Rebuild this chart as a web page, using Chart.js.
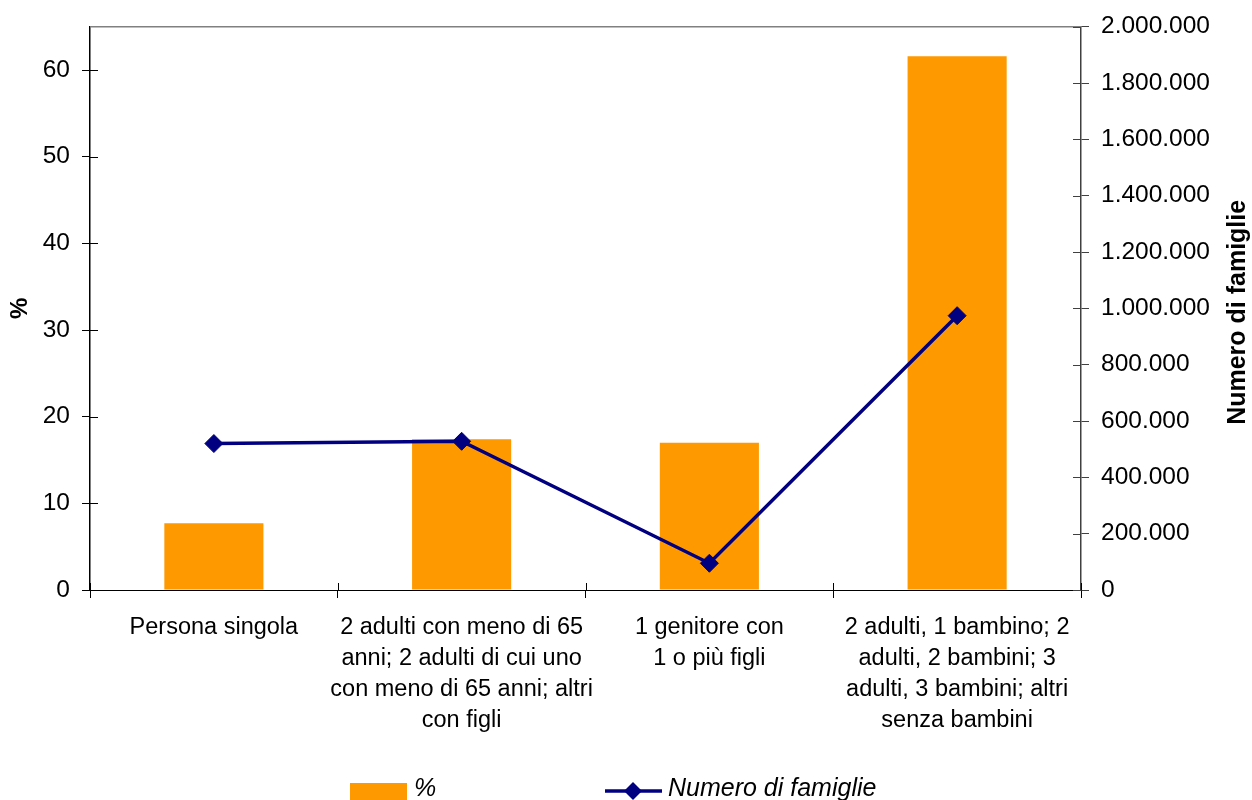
<!DOCTYPE html>
<html>
<head>
<meta charset="utf-8">
<script src="https://cdn.jsdelivr.net/npm/chart.js@4/dist/chart.umd.min.js"></script>
<style>
  html, body { margin: 0; padding: 0; background: #fff; }
  #wrap { width: 1252px; height: 800px; }
</style>
</head>
<body>
<div id="wrap"><canvas id="chart" width="1252" height="800"></canvas></div>
<script>
const categories = [
  ['Persona singola'],
  ['2 adulti con meno di 65', 'anni; 2 adulti di cui uno', 'con meno di 65 anni; altri', 'con figli'],
  ['1 genitore con', '1 o più figli'],
  ['2 adulti, 1 bambino; 2', 'adulti, 2 bambini; 3', 'adulti, 3 bambini; altri', 'senza bambini']
];
const percentValues = [7.7, 17.4, 17.0, 61.6];
const familyCounts = [520000, 528000, 95000, 974000];
const percentTicks = [0, 10, 20, 30, 40, 50, 60];
const familyTicks = [0, 200000, 400000, 600000, 800000, 1000000, 1200000, 1400000, 1600000, 1800000, 2000000];
const percentLabel = '%';
const familyLabel = 'Numero di famiglie';

const barColor = '#FF9900';
const lineColor = '#000080';
const fontFamily = '"Liberation Sans", Arial, sans-serif';

function formatThousands(v) {
  return String(v).replace(/\B(?=(\d{3})+(?!\d))/g, '.');
}

// short tick marks crossing into the plot, top border, right title, legend
const extras = {
  id: 'extras',
  afterDraw(chart) {
    const ctx = chart.ctx;
    const area = chart.chartArea;
    const x = chart.scales.x;
    const y = chart.scales.y;
    const y1 = chart.scales.y1;
    ctx.save();

    ctx.strokeStyle = '#808080';
    ctx.lineWidth = 1.5;
    ctx.beginPath();
    ctx.moveTo(area.left, area.top);
    ctx.lineTo(area.right, area.top);
    ctx.stroke();

    ctx.lineWidth = 1;
    ctx.strokeStyle = '#000';
    ctx.beginPath();
    y.ticks.forEach(t => {
      const py = Math.round(y.getPixelForValue(t.value)) + 0.5;
      ctx.moveTo(area.left, py);
      ctx.lineTo(area.left + 8, py);
    });
    const n = categories.length;
    for (let i = 0; i <= n; i++) {
      const px = Math.round(x.left + i * (x.width / n)) + 0.5;
      ctx.moveTo(px, area.bottom - 7);
      ctx.lineTo(px, area.bottom);
    }
    ctx.stroke();

    ctx.strokeStyle = '#404040';
    ctx.beginPath();
    y1.ticks.forEach(t => {
      const py = Math.round(y1.getPixelForValue(t.value)) + 0.5;
      ctx.moveTo(area.right - 8, py);
      ctx.lineTo(area.right, py);
    });
    ctx.stroke();

    // right axis title, reading upwards
    ctx.fillStyle = '#000';
    ctx.font = 'bold 25px ' + fontFamily;
    ctx.textAlign = 'center';
    ctx.textBaseline = 'middle';
    ctx.translate(1238, (area.top + area.bottom) / 2 + 4);
    ctx.rotate(-Math.PI / 2);
    ctx.fillText(familyLabel, 0, 0);
    ctx.setTransform(1, 0, 0, 1, 0, 0);

    // legend
    ctx.fillStyle = barColor;
    ctx.fillRect(350, 783, 57, 17);
    ctx.fillStyle = '#000';
    ctx.font = 'italic 25px ' + fontFamily;
    ctx.textAlign = 'left';
    ctx.fillText(percentLabel, 414, 789);

    ctx.strokeStyle = lineColor;
    ctx.lineWidth = 3.5;
    ctx.beginPath();
    ctx.moveTo(605, 791);
    ctx.lineTo(662, 791);
    ctx.stroke();
    ctx.fillStyle = lineColor;
    ctx.beginPath();
    ctx.moveTo(633 - 9, 791);
    ctx.lineTo(633, 782);
    ctx.lineTo(633 + 9, 791);
    ctx.lineTo(633, 800);
    ctx.closePath();
    ctx.fill();
    ctx.fillStyle = '#000';
    ctx.fillText(familyLabel, 668, 789);

    ctx.restore();
  }
};

new Chart(document.getElementById('chart'), {
  type: 'bar',
  data: {
    labels: categories,
    datasets: [
      {
        type: 'line',
        label: familyLabel,
        data: familyCounts,
        yAxisID: 'y1',
        order: 0,
        borderColor: lineColor,
        borderWidth: 3.5,
        backgroundColor: lineColor,
        pointStyle: 'rectRot',
        pointRadius: 9,
        pointBackgroundColor: lineColor,
        pointBorderColor: lineColor,
        pointBorderWidth: 1,
        tension: 0,
        fill: false
      },
      {
        label: percentLabel,
        data: percentValues,
        yAxisID: 'y',
        order: 1,
        backgroundColor: barColor,
        borderWidth: 0,
        categoryPercentage: 0.4,
        barPercentage: 1.0
      }
    ]
  },
  options: {
    responsive: false,
    animation: false,
    devicePixelRatio: 1,
    layout: { padding: { top: 26, right: 0, bottom: 0, left: 0 } },
    plugins: {
      legend: { display: false },
      tooltip: { enabled: false },
      title: { display: false }
    },
    scales: {
      x: {
        type: 'category',
        offset: true,
        grid: { display: true, drawOnChartArea: false, offset: true, tickLength: 8, color: '#000' },
        border: { display: true, color: '#000', width: 1 },
        ticks: {
          color: '#000',
          font: { family: fontFamily, size: 23.5, lineHeight: 1.32 },
          padding: 14,
          maxRotation: 0,
          autoSkip: false
        },
        afterFit: s => { s.height = 210; }
      },
      y: {
        type: 'linear',
        position: 'left',
        min: 0,
        max: 65,
        afterBuildTicks: s => { s.ticks = percentTicks.map(v => ({ value: v })); },
        grid: { display: true, drawOnChartArea: false, tickLength: 8, color: '#000' },
        border: { display: true, color: '#000', width: 1.5 },
        ticks: {
          color: '#000',
          font: { family: fontFamily, size: 24.5 },
          padding: 12
        },
        title: {
          display: true,
          text: percentLabel,
          color: '#000',
          font: { family: fontFamily, size: 24, weight: 'bold' },
          padding: { top: 6, bottom: 0 }
        },
        afterFit: s => { s.width = 90; }
      },
      y1: {
        type: 'linear',
        position: 'right',
        min: 0,
        max: 2000000,
        afterBuildTicks: s => { s.ticks = familyTicks.map(v => ({ value: v })); },
        grid: { display: true, drawOnChartArea: false, tickLength: 8, color: '#404040' },
        border: { display: true, color: '#404040', width: 1.5 },
        ticks: {
          color: '#000',
          font: { family: fontFamily, size: 24.5 },
          padding: 12,
          callback: v => formatThousands(v)
        },
        afterFit: s => { s.width = 171; }
      }
    }
  },
  plugins: [extras]
});
</script>
</body>
</html>
